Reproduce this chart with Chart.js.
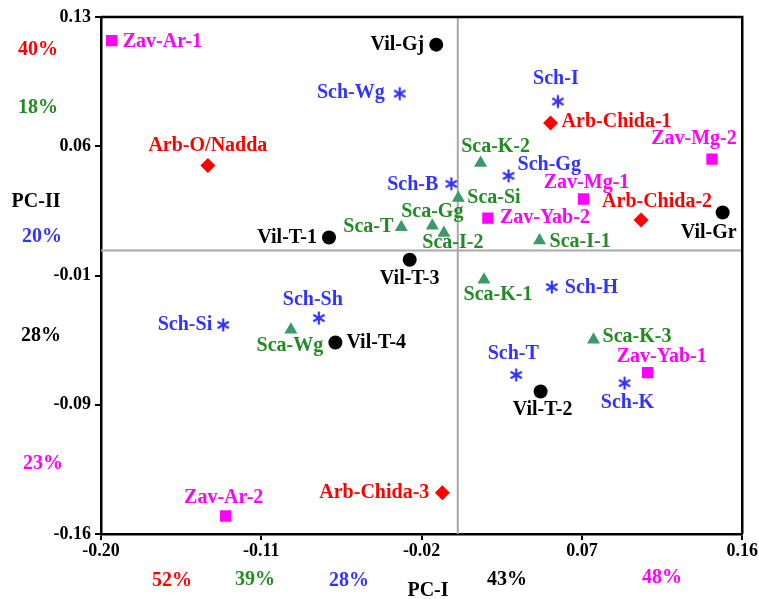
<!DOCTYPE html>
<html><head><meta charset="utf-8">
<script src="https://cdn.jsdelivr.net/npm/chart.js@4/dist/chart.umd.min.js"></script>
<style>html,body{margin:0;padding:0;background:#fff}</style>
</head><body>
<canvas id="c" width="759" height="599"></canvas>
<script>
// ---- tick labels ----
const xTickValues = [-0.20, -0.11, -0.02, 0.07, 0.16];
const xTickLabels = ["-0.20", "-0.11", "-0.02", "0.07", "0.16"];
const yTickValues = [-0.16, -0.0875, -0.015, 0.0575, 0.13];
const yTickLabels = ["-0.16", "-0.09", "-0.01", "0.06", "0.13"];

// ---- reference (origin) lines ----
const refX = 0.0003;
const refY = -0.001;

// ---- series ----
const vilNames = ["Vil-Gj", "Vil-Gr", "Vil-T-1", "Vil-T-3", "Vil-T-4", "Vil-T-2"];
const vilX = [-0.0118, 0.149, -0.072, -0.0267, -0.0684, 0.0468];
const vilY = [0.1145, 0.0203, 0.0063, -0.0062, -0.0526, -0.0801];

const arbNames = ["Arb-O/Nadda", "Arb-Chida-1", "Arb-Chida-2", "Arb-Chida-3"];
const arbX = [-0.140, 0.0524, 0.1032, -0.0084];
const arbY = [0.0467, 0.0705, 0.0162, -0.1368];

const zavNames = ["Zav-Ar-1", "Zav-Mg-2", "Zav-Mg-1", "Zav-Yab-2", "Zav-Yab-1", "Zav-Ar-2"];
const zavX = [-0.194, 0.143, 0.0709, 0.0172, 0.1069, -0.130];
const zavY = [0.1167, 0.0503, 0.0279, 0.0172, -0.0695, -0.1499];

const scaNames = ["Sca-K-2", "Sca-Si", "Sca-Gg", "Sca-I-2", "Sca-T", "Sca-Wg", "Sca-K-1", "Sca-I-1", "Sca-K-3"];
const scaX = [0.0131, 0.0006, -0.0140, -0.0075, -0.0314, -0.0934, 0.0150, 0.0462, 0.0765];
const scaY = [0.0481, 0.0285, 0.0129, 0.0088, 0.0121, -0.0455, -0.0174, 0.0046, -0.0511];

const schNames = ["Sch-Wg", "Sch-B", "Sch-I", "Sch-Gg", "Sch-Sh", "Sch-Si", "Sch-H", "Sch-K", "Sch-T"];
const schX = [-0.0323, -0.0033, 0.0565, 0.0288, -0.0777, -0.1314, 0.0531, 0.0939, 0.0331];
const schY = [0.0870, 0.0364, 0.0826, 0.0409, -0.0389, -0.0427, -0.0215, -0.0754, -0.0708];

// ---- outside annotations ----
const leftPercents = ["40%", "18%", "20%", "28%", "23%"];
const bottomPercents = ["52%", "39%", "28%", "43%", "48%"];

// ---- styling (label placement: anchor, dx, dy in px) ----
const labelPlace = {
  "Zav-Ar-1": ["l", 11, 1], "Arb-O/Nadda": ["c", 0, -20], "Vil-Gj": ["r", -12, 0],
  "Sch-Wg": ["r", -15, -1], "Sch-B": ["r", -13, 1], "Sca-K-2": ["c", 15, -16],
  "Sch-I": ["c", -2, -23], "Arb-Chida-1": ["l", 11, -1], "Zav-Mg-2": ["c", -18, -20],
  "Sch-Gg": ["l", 9, -11], "Zav-Mg-1": ["c", 3, -16], "Arb-Chida-2": ["c", 16, -18],
  "Vil-Gr": ["c", -14, 20], "Zav-Yab-2": ["l", 12, 0], "Sca-Si": ["l", 9, 0],
  "Sca-Gg": ["c", 0, -14], "Sca-I-2": ["c", 9, 10], "Sca-T": ["r", -8, 0],
  "Vil-T-1": ["r", -12, 0], "Vil-T-3": ["c", 0, 19], "Sch-Sh": ["c", -6, -18],
  "Sca-Wg": ["c", -1, 16], "Vil-T-4": ["l", 11, 0], "Sch-Si": ["r", -11, 0],
  "Sca-K-1": ["c", 14, 15], "Sca-I-1": ["l", 10, 1], "Sch-H": ["l", 13, 1],
  "Sca-K-3": ["l", 9, -3], "Zav-Yab-1": ["c", 14, -16], "Sch-K": ["c", 3, 20],
  "Sch-T": ["c", -3, -21], "Vil-T-2": ["c", 2, 18], "Arb-Chida-3": ["r", -13, 0],
  "Zav-Ar-2": ["c", -2, -18]
};
const SERIF = '"Liberation Serif", "Times New Roman", serif';
const BLUE = '#3333ff', GREEN = '#238b23', RED = '#ff0000', MAG = '#ff00ff';

function asterisk(color) {
  const c = document.createElement('canvas');
  c.width = 16; c.height = 16;
  const g = c.getContext('2d');
  g.strokeStyle = color; g.lineWidth = 2.2; g.lineCap = 'butt';
  const r = 6.5;
  [90, 30, 150].forEach(a => {
    const t = a * Math.PI / 180;
    g.beginPath();
    g.moveTo(8 - r * Math.cos(t), 8 - r * Math.sin(t));
    g.lineTo(8 + r * Math.cos(t), 8 + r * Math.sin(t));
    g.stroke();
  });
  return c;
}

const zip = (xs, ys) => xs.map((x, i) => ({ x: x, y: ys[i] }));

const datasets = [
  { label: 'Vil', names: vilNames, textColor: '#000', data: zip(vilX, vilY),
    pointStyle: 'circle', pointRadius: 7, backgroundColor: '#000', borderColor: '#000', borderWidth: 0 },
  { label: 'Arb', names: arbNames, textColor: RED, data: zip(arbX, arbY),
    pointStyle: 'rectRot', pointRadius: 7.5, backgroundColor: RED, borderColor: RED, borderWidth: 0 },
  { label: 'Zav', names: zavNames, textColor: MAG, data: zip(zavX, zavY),
    pointStyle: 'rect', pointRadius: 8, backgroundColor: MAG, borderColor: MAG, borderWidth: 0 },
  { label: 'Sca', names: scaNames, textColor: GREEN, data: zip(scaX, scaY),
    pointStyle: 'triangle', pointRadius: 7.5, backgroundColor: '#3a9a6a', borderColor: '#3a9a6a', borderWidth: 0 },
  { label: 'Sch', names: schNames, textColor: BLUE, data: zip(schX, schY),
    pointStyle: asterisk(BLUE), pointRadius: 7, backgroundColor: BLUE, borderColor: BLUE, borderWidth: 0 }
];

const framePlugin = {
  id: 'frame',
  beforeDatasetsDraw(chart) {
    const { ctx, chartArea: a, scales } = chart;
    ctx.save();
    ctx.strokeStyle = '#a8a8a8'; ctx.lineWidth = 2;
    const x0 = scales.x.getPixelForValue(refX), y0 = scales.y.getPixelForValue(refY);
    ctx.beginPath();
    ctx.moveTo(x0, a.top); ctx.lineTo(x0, a.bottom);
    ctx.moveTo(a.left, y0); ctx.lineTo(a.right, y0);
    ctx.stroke();
    ctx.strokeStyle = '#000'; ctx.lineWidth = 2.5;
    ctx.beginPath();
    ctx.moveTo(a.left, a.top); ctx.lineTo(a.right, a.top); ctx.lineTo(a.right, a.bottom);
    ctx.stroke();
    ctx.restore();
  }
};

const labelPlugin = {
  id: 'labels',
  afterDatasetsDraw(chart) {
    const { ctx } = chart;
    ctx.save();
    ctx.font = 'bold 20px ' + SERIF;
    ctx.textBaseline = 'middle';
    chart.data.datasets.forEach((ds, di) => {
      const meta = chart.getDatasetMeta(di);
      meta.data.forEach((el, i) => {
        const name = ds.names[i];
        const p = labelPlace[name] || ['l', 10, 0];
        ctx.fillStyle = ds.textColor;
        ctx.textAlign = p[0] === 'l' ? 'left' : (p[0] === 'r' ? 'right' : 'center');
        ctx.fillText(name, el.x + p[1], el.y + p[2]);
      });
    });
    // outside annotations
    const lc = ['#ff0000', GREEN, BLUE, '#000', MAG];
    const ly = [50, 108, 237, 336, 464], lx = [38, 38, 42, 41, 43];
    ctx.textAlign = 'center';
    leftPercents.forEach((t, i) => { ctx.fillStyle = lc[i]; ctx.fillText(t, lx[i], ly[i]); });
    const bx = [172, 255, 349, 507, 662], by = [581, 580, 581, 580, 578];
    bottomPercents.forEach((t, i) => { ctx.fillStyle = lc[i]; ctx.fillText(t, bx[i], by[i]); });
    ctx.fillStyle = '#000';
    ctx.fillText('PC-II', 36, 202);
    ctx.fillText('PC-I', 428, 591);
    ctx.restore();
  }
};

const axisCommon = {
  type: 'linear',
  border: { display: true, color: '#000', width: 2.5 },
  grid: { display: true, drawOnChartArea: false, drawTicks: true, tickLength: 6, color: '#000', lineWidth: 2 },
};

new Chart(document.getElementById('c'), {
  type: 'scatter',
  data: { datasets: datasets },
  options: {
    responsive: false,
    animation: false,
    layout: { padding: { top: 17, right: 16, left: 0, bottom: 0 } },
    plugins: { legend: { display: false }, tooltip: { enabled: false } },
    scales: {
      x: Object.assign({}, axisCommon, {
        min: -0.20, max: 0.16,
        afterBuildTicks(s) { s.ticks = xTickValues.map(v => ({ value: v })); },
        afterFit(s) { s.height = 65; },
        ticks: { padding: 1, color: '#000', font: { family: SERIF, size: 18, weight: 'bold' },
          maxRotation: 0, autoSkip: false,
          callback: (v, i) => xTickLabels[i] }
      }),
      y: Object.assign({}, axisCommon, {
        min: -0.16, max: 0.13,
        afterBuildTicks(s) { s.ticks = yTickValues.map(v => ({ value: v })); },
        afterFit(s) { s.width = 101; },
        ticks: { padding: 4, color: '#000', font: { family: SERIF, size: 18, weight: 'bold' },
          autoSkip: false,
          callback: (v, i) => yTickLabels[i] }
      })
    }
  },
  plugins: [framePlugin, labelPlugin]
});
</script>
</body></html>
